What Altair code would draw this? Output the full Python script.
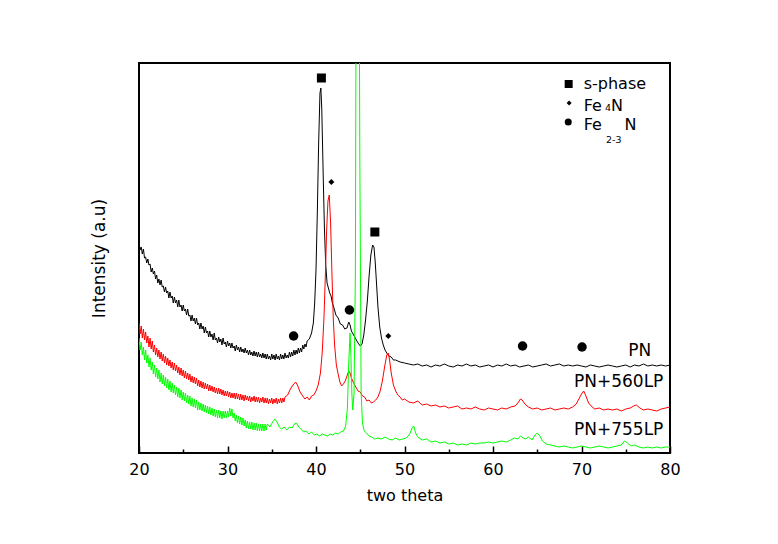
import altair as alt
import pandas as pd

# (two theta, intensity), intensity in arbitrary units
BLACK = [
    (20.0, 211), (20.125, 203), (20.25, 206), (20.375, 199), (20.5, 204), (20.625, 195), (20.75, 196), (20.875, 190),
    (21.0, 194), (21.125, 188), (21.25, 189), (21.375, 181), (21.5, 185), (21.625, 179), (21.75, 182), (21.875, 174),
    (22.0, 178), (22.125, 170), (22.25, 174), (22.375, 168), (22.5, 173), (22.625, 166), (22.75, 167), (22.875, 161),
    (23.0, 166), (23.125, 160), (23.25, 162), (23.375, 155), (23.5, 161), (23.625, 155), (23.75, 157), (23.875, 150),
    (24.0, 156), (24.125, 150), (24.25, 153), (24.375, 146), (24.5, 153), (24.625, 146), (24.75, 148), (24.875, 142),
    (25.0, 148), (25.125, 142), (25.25, 144), (25.375, 138), (25.5, 144), (25.625, 137), (25.75, 138), (25.875, 132),
    (26.0, 138), (26.125, 132), (26.25, 135), (26.375, 129), (26.5, 135), (26.625, 128), (26.75, 130), (26.875, 124),
    (27.0, 130), (27.125, 124), (27.25, 127), (27.375, 120), (27.5, 126), (27.625, 120), (27.75, 122), (27.875, 116),
    (28.0, 122), (28.125, 116), (28.25, 119), (28.375, 113), (28.5, 120), (28.625, 113), (28.75, 115), (28.875, 110),
    (29.0, 116), (29.125, 111), (29.25, 114), (29.375, 108), (29.5, 115), (29.625, 109), (29.75, 111), (29.875, 106),
    (30.0, 112), (30.125, 107), (30.25, 110), (30.375, 105), (30.5, 110), (30.625, 105), (30.75, 107), (30.875, 102),
    (31.0, 108), (31.125, 103), (31.25, 106), (31.375, 101), (31.5, 106), (31.625, 101), (31.75, 104), (31.875, 100),
    (32.0, 105), (32.125, 100), (32.25, 103), (32.375, 98), (32.5, 103), (32.625, 98), (32.75, 101), (32.875, 97),
    (33.0, 102), (33.125, 97), (33.25, 101), (33.375, 96), (33.5, 101), (33.625, 96), (33.75, 99), (33.875, 95),
    (34.0, 100), (34.125, 95), (34.25, 99), (34.375, 94), (34.5, 99), (34.625, 94), (34.75, 97), (34.875, 93),
    (35.0, 99), (35.125, 94), (35.25, 98), (35.375, 93), (35.5, 99), (35.625, 94), (35.75, 97), (35.875, 93),
    (36.0, 99), (36.125, 94), (36.25, 98), (36.375, 94), (36.5, 100), (36.625, 95), (36.75, 98), (36.875, 95),
    (37.0, 101), (37.125, 96), (37.25, 101), (37.375, 97), (37.5, 103), (37.625, 98), (37.75, 103), (37.875, 99),
    (38.0, 105), (38.125, 100), (38.25, 105), (38.375, 101), (38.5, 108), (38.625, 104), (38.75, 109), (38.875, 106),
    (39.0, 112), (39.25, 114), (39.5, 120), (39.7, 130),
    (39.85, 150), (40.0, 183), (40.15, 240), (40.3, 310), (40.45, 360), (40.55, 365), (40.65, 345), (40.8, 283),
    (40.95, 225), (41.1, 188), (41.25, 170), (41.4, 165), (41.55, 160), (41.7, 157), (41.85, 150), (42.0, 146),
    (42.25, 138), (42.5, 135), (42.75, 129), (43.0, 128), (43.25, 124), (43.5, 125), (43.7, 131), (43.85, 128),
    (44.0, 122), (44.25, 118), (44.5, 114), (44.75, 110), (45.0, 107), (45.2, 109), (45.4, 118), (45.6, 133),
    (45.8, 152), (46.0, 177), (46.2, 198), (46.4, 208), (46.55, 206), (46.7, 190), (46.85, 168), (47.0, 146),
    (47.2, 126), (47.4, 115), (47.6, 108), (47.8, 103), (48.0, 100), (48.25, 97), (48.5, 96), (48.75, 93),
    (49, 93), (49.5, 91), (50, 90), (50.5, 89), (51, 88), (51.5, 89), (52, 87), (52.5, 88), (53, 86),
    (53.5, 88), (54, 87), (54.5, 89), (55, 87), (55.5, 86), (56, 88), (56.5, 87), (57, 89), (57.5, 87),
    (58, 88), (58.5, 86), (59, 87), (59.5, 88), (60, 86), (60.5, 88), (61, 87), (61.5, 89), (62, 87),
    (62.5, 88), (63, 86), (63.5, 87), (64, 88), (64.5, 86), (65, 87), (65.5, 88), (66, 89), (66.5, 87),
    (67, 88), (67.5, 89), (68, 87), (68.5, 88), (69, 87), (69.5, 88), (70, 87), (70.5, 86), (71, 88),
    (71.5, 87), (72, 86), (72.5, 87), (73, 88), (73.5, 87), (74, 86), (74.5, 87), (75, 88), (75.5, 86),
    (76, 88), (76.5, 87), (77, 89), (77.5, 87), (78, 88), (78.5, 87), (79, 88), (79.5, 87), (80, 88),
]

RED = [
    (20.0, 130), (20.125, 119), (20.25, 127), (20.375, 115), (20.5, 124), (20.625, 113), (20.75, 121), (20.875, 110),
    (21.0, 117), (21.125, 106), (21.25, 115), (21.375, 104), (21.5, 112), (21.625, 101), (21.75, 108), (21.875, 98),
    (22.0, 105), (22.125, 96), (22.25, 103), (22.375, 94), (22.5, 101), (22.625, 92), (22.75, 99), (22.875, 90),
    (23.0, 97), (23.125, 88), (23.25, 95), (23.375, 87), (23.5, 93), (23.625, 85), (23.75, 91), (23.875, 83),
    (24.0, 90), (24.125, 82), (24.25, 88), (24.375, 80), (24.5, 86), (24.625, 78), (24.75, 85), (24.875, 77),
    (25.0, 83), (25.125, 75), (25.25, 82), (25.375, 74), (25.5, 80), (25.625, 73), (25.75, 79), (25.875, 71),
    (26.0, 77), (26.125, 70), (26.25, 76), (26.375, 69), (26.5, 75), (26.625, 67), (26.75, 73), (26.875, 66),
    (27.0, 72), (27.125, 65), (27.25, 71), (27.375, 64), (27.5, 70), (27.625, 64), (27.75, 69), (27.875, 62),
    (28.0, 68), (28.125, 62), (28.25, 67), (28.375, 61), (28.5, 66), (28.625, 60), (28.75, 65), (28.875, 59),
    (29.0, 65), (29.125, 59), (29.25, 64), (29.375, 58), (29.5, 63), (29.625, 57), (29.75, 62), (29.875, 57),
    (30.0, 62), (30.125, 56), (30.25, 61), (30.375, 55), (30.5, 60), (30.625, 55), (30.75, 60), (30.875, 54),
    (31.0, 60), (31.125, 54), (31.25, 59), (31.375, 53), (31.5, 59), (31.625, 53), (31.75, 58), (31.875, 52),
    (32.0, 58), (32.125, 53), (32.25, 57), (32.375, 52), (32.5, 57), (32.625, 51), (32.75, 56), (32.875, 52),
    (33.0, 57), (33.125, 51), (33.25, 56), (33.375, 51), (33.5, 56), (33.625, 50), (33.75, 55), (33.875, 51),
    (34.0, 56), (34.125, 50), (34.25, 55), (34.375, 50), (34.5, 55), (34.625, 49), (34.75, 54), (34.875, 50),
    (35.0, 55), (35.125, 49), (35.25, 54), (35.375, 50), (35.5, 55), (35.625, 49), (35.75, 54), (35.875, 50),
    (36.0, 55), (36.125, 50), (36.25, 55), (36.375, 51), (36.5, 56),
    (36.8, 58), (37.1, 64), (37.4, 68), (37.7, 71), (37.9, 68),
    (38.2, 61), (38.5, 57), (38.75, 54), (39.0, 56), (39.25, 53), (39.5, 57), (39.75, 58), (40.0, 62),
    (40.25, 68), (40.5, 80), (40.7, 100), (40.9, 135), (41.05, 175), (41.2, 222), (41.35, 252), (41.5, 258),
    (41.65, 230), (41.8, 180), (41.95, 135), (42.1, 108), (42.3, 88), (42.5, 79), (42.7, 71), (42.9, 67),
    (43.1, 69), (43.3, 72), (43.5, 77), (43.7, 82), (43.85, 80), (44.0, 75), (44.25, 70), (44.5, 66),
    (44.75, 62), (45.0, 61), (45.25, 57), (45.5, 56), (45.75, 52), (46.0, 53), (46.25, 50), (46.5, 51),
    (46.75, 53), (47.0, 56), (47.25, 62), (47.5, 72), (47.75, 86), (48.0, 98), (48.15, 100), (48.3, 94),
    (48.5, 80), (48.75, 68), (49.0, 62), (49.25, 58), (49.5, 56), (49.75, 53), (50.0, 54), (50.5, 51),
    (51, 50), (51.5, 52), (52, 48), (52.5, 49), (53, 47), (53.5, 48), (54, 46), (54.5, 47), (55, 45),
    (55.5, 46), (56, 47), (56.5, 44), (57, 45), (57.5, 44), (58, 46), (58.5, 44), (59, 43), (59.5, 45),
    (60, 44), (60.5, 43), (61, 45), (61.5, 44), (62, 46), (62.5, 47), (62.8, 50), (63.1, 54), (63.3, 53),
    (63.6, 49), (64.0, 46), (64.5, 44), (65, 45), (65.5, 43), (66, 44), (66.5, 45), (67, 43), (67.5, 44),
    (68, 45), (68.5, 44), (69, 46), (69.4, 49), (69.7, 54), (70.0, 59), (70.25, 62), (70.5, 57), (70.8, 50),
    (71.2, 46), (71.5, 44), (72, 45), (72.5, 43), (73, 44), (73.5, 43), (74, 44), (74.5, 42), (75, 44),
    (75.5, 45), (75.9, 47), (76.2, 48), (76.6, 45), (77, 43), (77.5, 44), (78, 43), (78.5, 42), (79, 44),
    (79.5, 45), (80, 46),
]

GREEN = [
    (20.0, 115), (20.125, 103), (20.25, 111), (20.375, 98), (20.5, 106), (20.625, 93), (20.75, 103), (20.875, 90),
    (21.0, 98), (21.125, 86), (21.25, 95), (21.375, 83), (21.5, 91), (21.625, 79), (21.75, 88), (21.875, 76),
    (22.0, 85), (22.125, 74), (22.25, 83), (22.375, 71), (22.5, 80), (22.625, 69), (22.75, 78), (22.875, 67),
    (23.0, 76), (23.125, 65), (23.25, 74), (23.375, 63), (23.5, 72), (23.625, 61), (23.75, 70), (23.875, 60),
    (24.0, 68), (24.125, 58), (24.25, 66), (24.375, 56), (24.5, 65), (24.625, 55), (24.75, 63), (24.875, 53),
    (25.0, 61), (25.125, 52), (25.25, 60), (25.375, 50), (25.5, 58), (25.625, 49), (25.75, 57), (25.875, 47),
    (26.0, 55), (26.125, 46), (26.25, 54), (26.375, 45), (26.5, 53), (26.625, 43), (26.75, 51), (26.875, 43),
    (27.0, 50), (27.125, 42), (27.25, 49), (27.375, 41), (27.5, 48), (27.625, 40), (27.75, 47), (27.875, 39),
    (28.0, 46), (28.125, 38), (28.25, 45), (28.375, 37), (28.5, 44), (28.625, 36), (28.75, 43), (28.875, 35),
    (29.0, 43), (29.125, 35), (29.25, 42), (29.375, 34), (29.5, 42), (29.625, 35), (29.75, 42), (29.875, 35),
    (30.0, 42), (30.125, 36), (30.25, 45), (30.375, 37), (30.5, 44), (30.625, 35), (30.75, 40), (30.875, 32),
    (31.0, 38), (31.125, 30), (31.25, 37), (31.375, 29), (31.5, 36), (31.625, 28), (31.75, 35), (31.875, 27),
    (32.0, 33), (32.125, 25), (32.25, 32), (32.375, 24), (32.5, 31), (32.625, 24), (32.75, 31), (32.875, 23),
    (33.0, 30), (33.125, 23), (33.25, 30), (33.375, 22), (33.5, 29), (33.625, 22), (33.75, 29), (33.875, 22),
    (34.0, 29), (34.125, 22), (34.25, 29), (34.375, 23), (34.5, 29),
    (34.8, 26), (35.1, 31), (35.35, 34), (35.6, 31), (35.85, 26),
    (36.1, 24), (36.4, 26), (36.7, 23), (37.0, 26), (37.3, 25), (37.55, 29), (37.8, 30), (38.05, 26),
    (38.3, 24), (38.6, 21), (38.9, 22), (39.2, 19), (39.5, 21), (39.8, 18), (40.1, 19), (40.4, 17),
    (40.7, 19), (41.0, 18), (41.3, 17), (41.6, 19), (41.9, 18), (42.2, 20), (42.5, 19), (42.8, 21),
    (43.1, 22), (43.35, 27), (43.55, 45), (43.7, 90), (43.85, 120), (43.95, 95), (44.05, 60), (44.15, 43),
    (44.3, 60), (44.45, 180), (44.6, 700), (44.8, 700), (44.95, 300), (45.1, 60), (45.25, 30), (45.45, 22),
    (45.7, 20), (46.0, 17), (46.3, 16), (46.6, 14), (47.0, 15), (47.4, 14), (47.8, 16), (48.2, 14),
    (48.6, 13), (49.0, 15), (49.4, 13), (49.8, 14), (50.2, 15), (50.6, 19), (50.85, 25), (51.05, 27),
    (51.25, 20), (51.5, 16), (52.0, 13), (52.5, 14), (53.0, 11), (53.5, 12), (54.0, 10), (54.5, 11),
    (55.0, 9), (55.5, 10), (56.0, 8), (56.5, 9), (57.0, 8), (57.5, 10), (58.0, 9), (58.5, 10), (59.0, 10),
    (59.5, 11), (60.0, 10), (60.5, 11), (61.0, 12), (61.5, 11), (62.0, 13), (62.4, 15), (62.8, 14),
    (63.1, 17), (63.4, 15), (63.7, 14), (64.0, 16), (64.4, 13), (64.75, 18), (65.0, 20), (65.3, 17),
    (65.6, 12), (66.0, 9), (66.5, 8), (67.0, 7), (67.5, 6), (68.0, 7), (68.5, 6), (69.0, 5), (69.5, 6),
    (70.0, 7), (70.5, 6), (71.0, 5), (71.5, 6), (72.0, 7), (72.5, 6), (73.0, 5), (73.5, 6), (74.0, 7),
    (74.5, 8), (74.85, 12), (75.05, 11), (75.3, 9), (75.7, 7), (76.0, 8), (76.5, 6), (77.0, 5), (77.5, 6),
    (78.0, 5), (78.5, 6), (79.0, 5), (79.5, 6), (80.0, 6),
]

SERIES_NAMES = ["PN", "PN+560LP", "PN+755LP"]
SERIES_COLORS = ["#000000", "#ff0000", "#00ff00"]

# phase markers over the peaks
MARK_SHAPE = ["square", "square", "diamond", "diamond", "circle", "circle", "circle", "circle"]
MARK_THETA = [40.61, 46.65, 41.74, 48.17, 37.47, 43.78, 63.34, 70.06]
MARK_VALUE = [375, 221, 271, 117, 117, 143, 107, 106]
MARK_SIZE = [81, 81, 36, 36, 90, 90, 90, 90]

# legend symbols
LEG_SHAPE = ["square", "diamond", "circle"]
LEG_THETA = [68.55, 68.6, 68.5]
LEG_VALUE = [369, 350, 331]
LEG_SIZE = [64, 25, 49]

# text labels: text, theta, value, font size
TEXTS = [
    ("PN", 75.27, 102, 17), ("PN+560LP", 69.15, 71, 17), ("PN+755LP", 69.15, 23, 17),
    ("s-phase", 70.25, 369, 16),
    ("Fe", 70.25, 347, 16), ("4", 72.66, 345, 9.5), ("N", 73.34, 347, 16),
    ("Fe", 70.25, 328, 16), ("2-3", 72.77, 313, 9.5), ("N", 74.85, 328, 16),
]

X_MAJOR = [20, 30, 40, 50, 60, 70, 80]
X_MINOR = [25, 35, 45, 55, 65, 75]

rows = []
for name, pts in zip(SERIES_NAMES, [BLACK, RED, GREEN]):
    for t, v in pts:
        rows.append({"series": name, "theta": t, "value": v})
lines_df = pd.DataFrame(rows)

marks_df = pd.DataFrame({"shape": MARK_SHAPE, "theta": MARK_THETA, "value": MARK_VALUE, "size": MARK_SIZE})
leg_df = pd.DataFrame({"shape": LEG_SHAPE, "theta": LEG_THETA, "value": LEG_VALUE, "size": LEG_SIZE})
text_df = pd.DataFrame(TEXTS, columns=["text", "theta", "value", "size"])
minor_df = pd.DataFrame({"theta": X_MINOR})

FONT = "DejaVu Sans"
xscale = alt.Scale(domain=[20, 80], nice=False, zero=False)
yscale = alt.Scale(domain=[0, 390], nice=False, zero=False)

y_axis = alt.Axis(labels=False, ticks=False, domain=False, grid=False,
                  title="Intensity (a.u)", titleFontSize=17, titleFontWeight="normal",
                  titleFont=FONT, titleColor="black", titlePadding=31)

lines = alt.Chart(lines_df).mark_line(strokeWidth=1, clip=True).encode(
    x=alt.X("theta:Q", scale=xscale,
            axis=alt.Axis(orient="bottom", values=X_MAJOR, tickSize=7, offset=-7, domain=False,
                          grid=False, labelPadding=8, labelFontSize=16, labelFont=FONT,
                          labelColor="black", labelFlush=False, format="d", tickColor="black",
                          tickWidth=1.5, title="two theta", titleFontSize=16, titleFont=FONT,
                          titleFontWeight="normal", titleColor="black", titlePadding=10)),
    y=alt.Y("value:Q", scale=yscale, axis=y_axis),
    color=alt.Color("series:N", scale=alt.Scale(domain=SERIES_NAMES, range=SERIES_COLORS), legend=None),
)

minor = alt.Chart(minor_df).mark_point(opacity=0).encode(
    x=alt.X("theta:Q", scale=xscale,
            axis=alt.Axis(orient="bottom", values=X_MINOR, tickSize=4, offset=-4, labels=False,
                          domain=False, grid=False, title=None, tickColor="black", tickWidth=1.5)),
)

markers = alt.Chart(marks_df).mark_point(filled=True, opacity=1, color="black", strokeWidth=0).encode(
    x=alt.X("theta:Q", scale=xscale, axis=None),
    y=alt.Y("value:Q", scale=yscale, axis=y_axis),
    shape=alt.Shape("shape:N", scale=None),
    size=alt.Size("size:Q", scale=None),
)

legend_syms = alt.Chart(leg_df).mark_point(filled=True, opacity=1, color="black", strokeWidth=0).encode(
    x=alt.X("theta:Q", scale=xscale, axis=None),
    y=alt.Y("value:Q", scale=yscale, axis=y_axis),
    shape=alt.Shape("shape:N", scale=None),
    size=alt.Size("size:Q", scale=None),
)

texts = alt.Chart(text_df).mark_text(align="left", baseline="middle", font=FONT, color="black").encode(
    x=alt.X("theta:Q", scale=xscale, axis=None),
    y=alt.Y("value:Q", scale=yscale, axis=y_axis),
    text="text:N",
    size=alt.Size("size:Q", scale=None),
)

chart = alt.layer(lines, minor, markers, legend_syms, texts).resolve_axis(x="independent").properties(
    width=531, height=390,
    autosize=alt.AutoSizeParams(type="none"),
    padding={"left": 131, "top": 55, "right": 100, "bottom": 80},
    background="white",
).configure_view(stroke="black", strokeWidth=2)

chart.save("out.html", embed_options={"renderer": "svg", "actions": False})
